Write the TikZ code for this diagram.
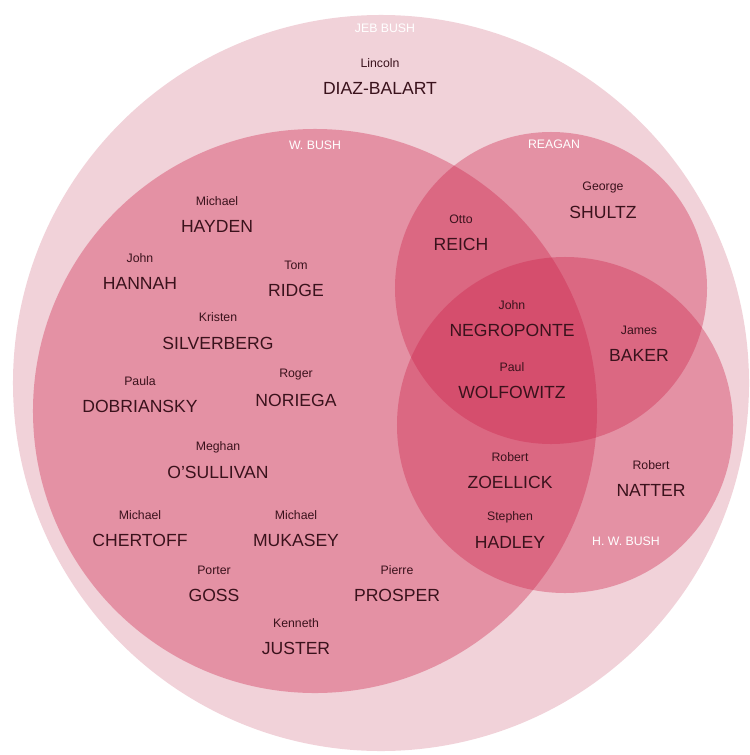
\documentclass[tikz,border=0pt]{standalone}
\usepackage{fontspec}
\setmainfont{Liberation Sans}
\usepackage{tikz}
\usetikzlibrary{positioning}

\definecolor{jebpink}{RGB}{241,210,217}
\definecolor{setred}{RGB}{205,32,72}
\definecolor{nametext}{RGB}{58,18,28}

\begin{document}
\begin{tikzpicture}[x=0.03cm,y=-0.03cm,
    setcircle/.style={fill=setred,fill opacity=0.36,draw=none},
    setlabel/.style={text=white,font=\fontsize{10.5}{12}\selectfont,inner sep=0pt},
    firstname/.style={text=nametext,font=\fontsize{10.5}{12}\selectfont,inner sep=0pt},
    lastname/.style={text=nametext,font=\fontsize{15}{18}\selectfont,inner sep=0pt}]
    \useasboundingbox (0,0) rectangle (749,755);

    % Cerchi
    \fill[jebpink] (381,383) circle[radius=11.04cm];
    \path[setcircle] (315,411) circle[radius=8.46cm];
    \path[setcircle] (551,288) circle[radius=4.68cm];
    \path[setcircle] (565,425) circle[radius=5.04cm];

    % Etichette insiemi
    \node[setlabel] (jeb) at (385,28) {JEB BUSH};
    \node[setlabel] (wbush) at (315,145) {W. BUSH};
    \node[setlabel] (reagan) at (554,144) {REAGAN};
    \node[setlabel] (hwbush) at (626,541) {H. W. BUSH};

    % Solo Jeb
    \node[firstname] (diazbalart-f) at (380,63) {Lincoln};
    \node[lastname] (diazbalart) at (380,88) {DIAZ-BALART};

    % W. Bush
    \node[firstname] (hayden-f) at (217,201) {Michael};
    \node[lastname] (hayden) at (217,226) {HAYDEN};
    \node[firstname] (hannah-f) at (140,258) {John};
    \node[lastname] (hannah) at (140,283) {HANNAH};
    \node[firstname] (ridge-f) at (296,265) {Tom};
    \node[lastname] (ridge) at (296,290) {RIDGE};
    \node[firstname] (silverberg-f) at (218,317) {Kristen};
    \node[lastname] (silverberg) at (218,343) {SILVERBERG};
    \node[firstname] (dobriansky-f) at (140,381) {Paula};
    \node[lastname] (dobriansky) at (140,406) {DOBRIANSKY};
    \node[firstname] (noriega-f) at (296,375) {Roger};
    \node[lastname] (noriega) at (296,400) {NORIEGA};
    \node[firstname] (osullivan-f) at (218,447) {Meghan};
    \node[lastname] (osullivan) at (218,472) {O'SULLIVAN};
    \node[firstname] (chertoff-f) at (140,515) {Michael};
    \node[lastname] (chertoff) at (140,540) {CHERTOFF};
    \node[firstname] (mukasey-f) at (296,515) {Michael};
    \node[lastname] (mukasey) at (296,540) {MUKASEY};
    \node[firstname] (goss-f) at (214,570) {Porter};
    \node[lastname] (goss) at (214,595) {GOSS};
    \node[firstname] (prosper-f) at (397,570) {Pierre};
    \node[lastname] (prosper) at (397,595) {PROSPER};
    \node[firstname] (juster-f) at (296,623) {Kenneth};
    \node[lastname] (juster) at (296,648) {JUSTER};

    % Reagan e intersezioni
    \node[firstname] (reich-f) at (461,219) {Otto};
    \node[lastname] (reich) at (461,244) {REICH};
    \node[firstname] (shultz-f) at (603,187) {George};
    \node[lastname] (shultz) at (603,212) {SHULTZ};
    \node[firstname] (negroponte-f) at (512,305) {John};
    \node[lastname] (negroponte) at (512,330) {NEGROPONTE};
    \node[firstname] (baker-f) at (639,330) {James};
    \node[lastname] (baker) at (639,355) {BAKER};
    \node[firstname] (wolfowitz-f) at (512,367) {Paul};
    \node[lastname] (wolfowitz) at (512,392) {WOLFOWITZ};

    % H. W. Bush
    \node[firstname] (zoellick-f) at (510,457) {Robert};
    \node[lastname] (zoellick) at (510,482) {ZOELLICK};
    \node[firstname] (natter-f) at (651,465) {Robert};
    \node[lastname] (natter) at (651,490) {NATTER};
    \node[firstname] (hadley-f) at (510,517) {Stephen};
    \node[lastname] (hadley) at (510,542) {HADLEY};
\end{tikzpicture}
\end{document}
